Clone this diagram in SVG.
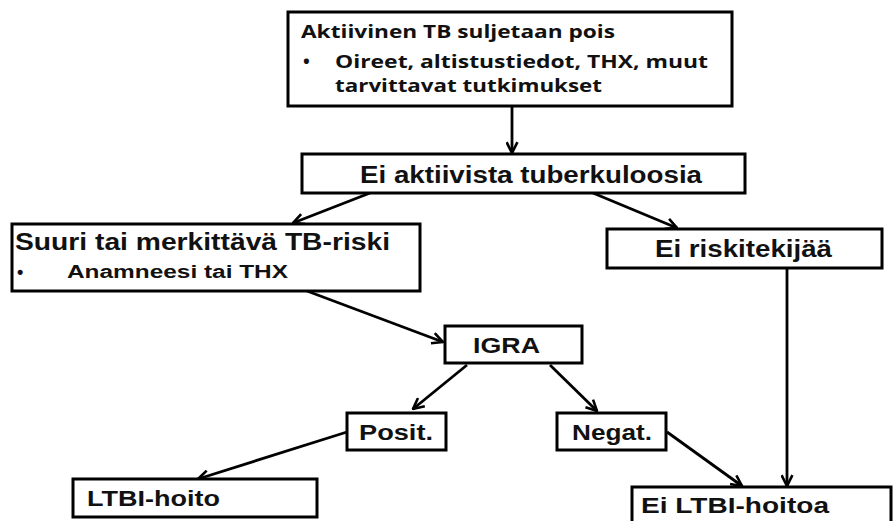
<svg xmlns="http://www.w3.org/2000/svg" width="894" height="521" viewBox="0 0 894 521">
  <style>
    .box { fill: #ffffff; stroke: #000000; stroke-width: 3; }
    .t { font-family: "Liberation Sans", Arial, sans-serif; font-weight: bold; fill: #111111; }
    .c { font-family: "Open Sans", "Liberation Sans", sans-serif; font-weight: bold; fill: #111111; }
    .edge { stroke: #000000; stroke-width: 2.8; fill: none; marker-end: url(#arr); }
  </style>
  <defs>
    <marker id="arr" viewBox="0 0 12 12" refX="11" refY="6" markerWidth="13" markerHeight="13" markerUnits="userSpaceOnUse" orient="auto">
      <path d="M1,1 L11,6 L1,11" fill="none" stroke="#000000" stroke-width="2.4" stroke-linejoin="miter"/>
    </marker>
  </defs>
  <rect x="0" y="0" width="894" height="521" fill="#ffffff"/>

  <g id="connectors">
    <line class="edge" x1="512" y1="106" x2="512" y2="153"/>
    <line class="edge" x1="370" y1="193" x2="293" y2="223"/>
    <line class="edge" x1="593" y1="193" x2="677" y2="228"/>
    <line class="edge" x1="307" y1="291" x2="443" y2="342"/>
    <line class="edge" x1="467" y1="365" x2="413" y2="409"/>
    <line class="edge" x1="550" y1="365" x2="597" y2="411"/>
    <line class="edge" x1="347" y1="432" x2="198" y2="479"/>
    <line class="edge" x1="667" y1="432" x2="742" y2="486"/>
    <line class="edge" x1="787" y1="269" x2="787" y2="486"/>
  </g>

  <g id="node-aktiivinen">
    <rect class="box" x="288" y="12" width="444" height="94"/>
    <text class="c" x="301" y="38" font-size="18" textLength="314" lengthAdjust="spacingAndGlyphs">Aktiivinen TB suljetaan pois</text>
    <text class="c" x="303" y="68" font-size="18">•</text>
    <text class="c" x="335" y="68" font-size="18" textLength="373" lengthAdjust="spacingAndGlyphs">Oireet, altistustiedot, THX, muut</text>
    <text class="c" x="335" y="92" font-size="18" textLength="267" lengthAdjust="spacingAndGlyphs">tarvittavat tutkimukset</text>
  </g>

  <g id="node-ei-aktiivista">
    <rect class="box" x="302" y="154" width="443" height="39"/>
    <text class="t" x="360" y="183" font-size="23" textLength="342" lengthAdjust="spacingAndGlyphs">Ei aktiivista tuberkuloosia</text>
  </g>

  <g id="node-suuri">
    <rect class="box" x="12" y="224" width="408" height="67"/>
    <text class="t" x="15" y="250" font-size="23.5" textLength="375" lengthAdjust="spacingAndGlyphs">Suuri tai merkittävä TB-riski</text>
    <text class="t" x="17" y="278" font-size="18">•</text>
    <text class="t" x="67" y="278" font-size="18" textLength="221" lengthAdjust="spacingAndGlyphs">Anamneesi tai THX</text>
  </g>

  <g id="node-ei-riski">
    <rect class="box" x="607" y="229" width="275" height="39"/>
    <text class="t" x="655" y="257" font-size="23" textLength="177" lengthAdjust="spacingAndGlyphs">Ei riskitekijää</text>
  </g>

  <g id="node-igra">
    <rect class="box" x="445" y="326" width="137" height="37"/>
    <text class="t" x="473" y="353" font-size="22" textLength="67" lengthAdjust="spacingAndGlyphs">IGRA</text>
  </g>

  <g id="node-posit">
    <rect class="box" x="347" y="413" width="99" height="37"/>
    <text class="t" x="359" y="440" font-size="22" textLength="74" lengthAdjust="spacingAndGlyphs">Posit.</text>
  </g>

  <g id="node-negat">
    <rect class="box" x="557" y="413" width="109" height="37"/>
    <text class="t" x="572" y="440" font-size="22" textLength="80" lengthAdjust="spacingAndGlyphs">Negat.</text>
  </g>

  <g id="node-ltbi">
    <rect class="box" x="73" y="479" width="244" height="38"/>
    <text class="t" x="87" y="506" font-size="22" textLength="133" lengthAdjust="spacingAndGlyphs">LTBI-hoito</text>
  </g>

  <g id="node-ei-ltbi">
    <rect class="box" x="632" y="487" width="259" height="40"/>
    <text class="t" x="641" y="513" font-size="22" textLength="188" lengthAdjust="spacingAndGlyphs">Ei LTBI-hoitoa</text>
  </g>
</svg>
